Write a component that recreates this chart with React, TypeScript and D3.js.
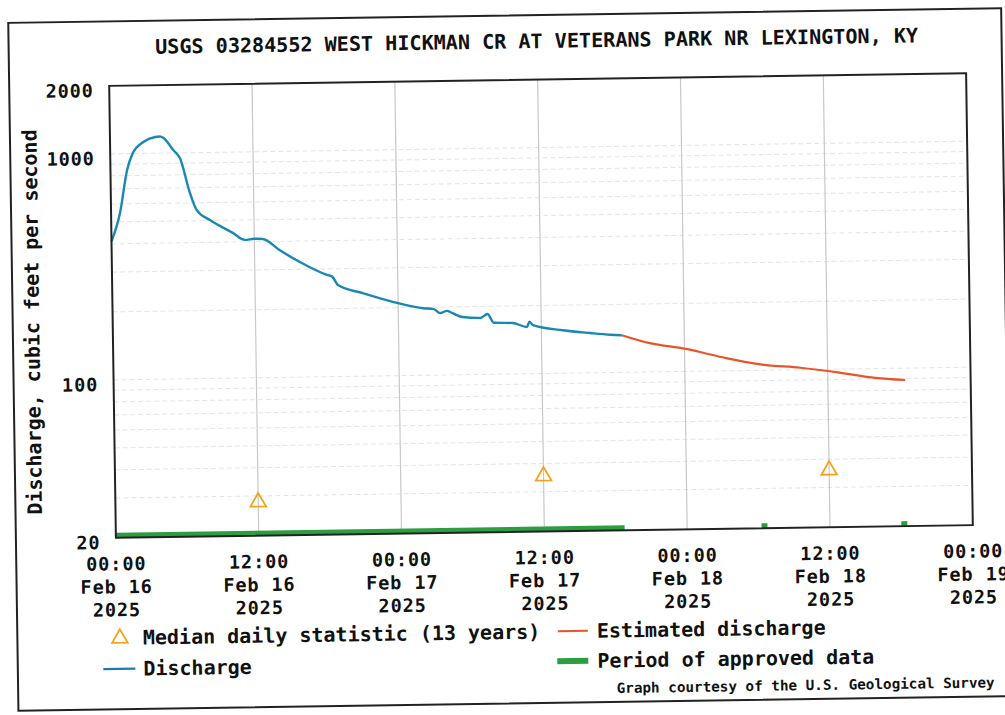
import React from "react";
import * as d3 from "d3";

// ---- data (hours after 2025-02-16 00:00, discharge in ft3/s) ----
const dischargeHours = [0, 0.75, 1.4, 1.9, 2.8, 3.8, 4.2, 4.5, 5.3, 5.85, 6.65, 7.2, 8.3, 10.2, 11.2, 12.0, 12.7, 14.1, 15.8, 18.06, 18.5, 18.97, 21.06, 23.9, 26.1, 27.0, 27.5, 28.1, 28.5, 29.4, 30.9, 31.5, 32.0, 33.6, 34.8, 35.0, 35.3, 37.8, 40.1, 41.8, 42.75];
const dischargeCfs = [410, 547, 846, 1005, 1124, 1180, 1185, 1166, 1030, 948, 664, 557, 502, 439, 408, 412, 411, 366, 323, 282, 277, 254, 233, 210, 198, 196, 188, 192, 188, 180, 178, 185, 169, 168, 161, 170, 164, 155, 150, 147, 146];

const estimatedHours = [42.75, 45.1, 48.1, 49.3, 51.4, 54.5, 57.7, 61.0, 64.0, 66.5];
const estimatedCfs = [146, 134, 125.7, 121.6, 114, 106, 102, 96.5, 91, 88.6];

const medianHours = [12, 36, 60];
const medianCfs = [28.2, 35.2, 35.8];

const approvedStart = [0, 54.25, 66.0];
const approvedEnd = [42.75, 54.75, 66.5];

const yTickValues = [20, 100, 1000, 2000];
const yGridValues = [30, 40, 50, 60, 70, 80, 90, 100, 200, 300, 400, 500, 600, 700, 800, 900, 1000];
const xTickHours = [0, 12, 24, 36, 48, 60, 72];
const xTickTimes = ["00:00", "12:00", "00:00", "12:00", "00:00", "12:00", "00:00"];
const xTickDays = ["Feb 16", "Feb 16", "Feb 17", "Feb 17", "Feb 18", "Feb 18", "Feb 19"];
const xTickYears = ["2025", "2025", "2025", "2025", "2025", "2025", "2025"];

const TITLE = "USGS 03284552 WEST HICKMAN CR AT VETERANS PARK NR LEXINGTON, KY";
const FONT = "'DejaVu Sans Mono', 'Liberation Mono', monospace";

export default function App() {
  const W = 1005, H = 715;
  const left = 112.5, right = 969.5, top = 79.5, bottom = 531.5;
  const x = d3.scaleLinear().domain([0, 72]).range([left, right]);
  const y = d3.scaleLog().domain([20, 2000]).range([bottom, top]);

  const line = d3.line<[number, number]>().x(d => x(d[0])).y(d => y(d[1])).curve(d3.curveMonotoneX);
  const disc = line(dischargeHours.map((h, i) => [h, dischargeCfs[i]]) as [number, number][]) || "";
  const est = line(estimatedHours.map((h, i) => [h, estimatedCfs[i]]) as [number, number][]) || "";
  const tri = d3.symbol().type(d3.symbolTriangle).size(105)() || "";

  const blue = "#1a88b2";
  const red = "#e8552b";
  const green = "#2b9e40";
  const orange = "#f2a31e";
  const tickFont = { fontSize: 18.5, letterSpacing: 0.9 };

  return (
    <svg width={W} height={H} style={{ position: "absolute", left: 0, top: 0, background: "#fff" }}
      fontFamily={FONT} fontWeight="bold">
      <rect x={0} y={0} width={W} height={H} fill="#fff" />
      <g transform="rotate(-0.85 541 305.5)">
        {/* outer border */}
        <rect x={12.5} y={15} width={993} height={688} fill="none" stroke="#222" strokeWidth={2} />
        {/* title */}
        <text x={159} y={48} fontSize={20} textLength={763} lengthAdjust="spacingAndGlyphs" fill="#111">{TITLE}</text>

        {/* grid */}
        {yGridValues.map(v => (
          <line key={"h" + v} x1={left} x2={right} y1={y(v)} y2={y(v)} stroke="#e4e4e4" strokeWidth={1} strokeDasharray="5,3" />
        ))}
        {xTickHours.slice(1, -1).map(h => (
          <line key={"v" + h} x1={x(h)} x2={x(h)} y1={top} y2={bottom} stroke="#c8c8c8" strokeWidth={1.2} />
        ))}

        {/* approved periods */}
        {approvedStart.map((s, i) => (
          <line key={"ap" + i} x1={x(s)} x2={x(approvedEnd[i])} y1={bottom - 2.5} y2={bottom - 2.5} stroke={green} strokeWidth={5} />
        ))}

        {/* curves */}
        <path d={est} fill="none" stroke={red} strokeWidth={2.2} />
        <path d={disc} fill="none" stroke={blue} strokeWidth={2.4} strokeLinejoin="round" />

        {/* medians */}
        {medianHours.map((h, i) => (
          <path key={"m" + i} d={tri} transform={`translate(${x(h)},${y(medianCfs[i])})`} fill="none" stroke={orange} strokeWidth={1.8} />
        ))}

        {/* plot frame */}
        <rect x={left} y={top} width={right - left} height={bottom - top} fill="none" stroke="#222" strokeWidth={2} />

        {/* y ticks */}
        {yTickValues.map(v => (
          <text key={"yt" + v} x={97} y={y(v) + 11} {...tickFont} textAnchor="end" fill="#111">{v}</text>
        ))}
        <text transform="translate(32,314.5) rotate(-90)" fontSize={20} textAnchor="middle" dominantBaseline="central" fill="#111">
          Discharge, cubic feet per second
        </text>

        {/* x ticks */}
        {xTickHours.map((h, i) => (
          <g key={"xt" + i} {...tickFont} textAnchor="middle" fill="#111">
            <text x={x(h)} y={564}>{xTickTimes[i]}</text>
            <text x={x(h)} y={587}>{xTickDays[i]}</text>
            <text x={x(h)} y={610}>{xTickYears[i]}</text>
          </g>
        ))}

        {/* legend */}
        <path d={tri} transform="translate(115,632)" fill="none" stroke={orange} strokeWidth={1.8} />
        <text x={138} y={638.5} fontSize={20} fill="#111">Median daily statistic (13 years)</text>
        <line x1={98} x2={130} y1={662.5} y2={662.5} stroke="#1f78b0" strokeWidth={2.2} />
        <text x={138} y={669.5} fontSize={20} fill="#111">Discharge</text>
        <line x1={553} x2={583} y1={631.5} y2={631.5} stroke={red} strokeWidth={2} />
        <text x={592} y={638.5} fontSize={20} fill="#111">Estimated discharge</text>
        <line x1={552} x2={583} y1={661.5} y2={661.5} stroke={green} strokeWidth={6} />
        <text x={592} y={668.5} fontSize={20} fill="#111">Period of approved data</text>
        <text x={611} y={694} fontSize={14} textLength={378} lengthAdjust="spacingAndGlyphs" fill="#111">Graph courtesy of the U.S. Geological Survey</text>
      </g>
    </svg>
  );
}
